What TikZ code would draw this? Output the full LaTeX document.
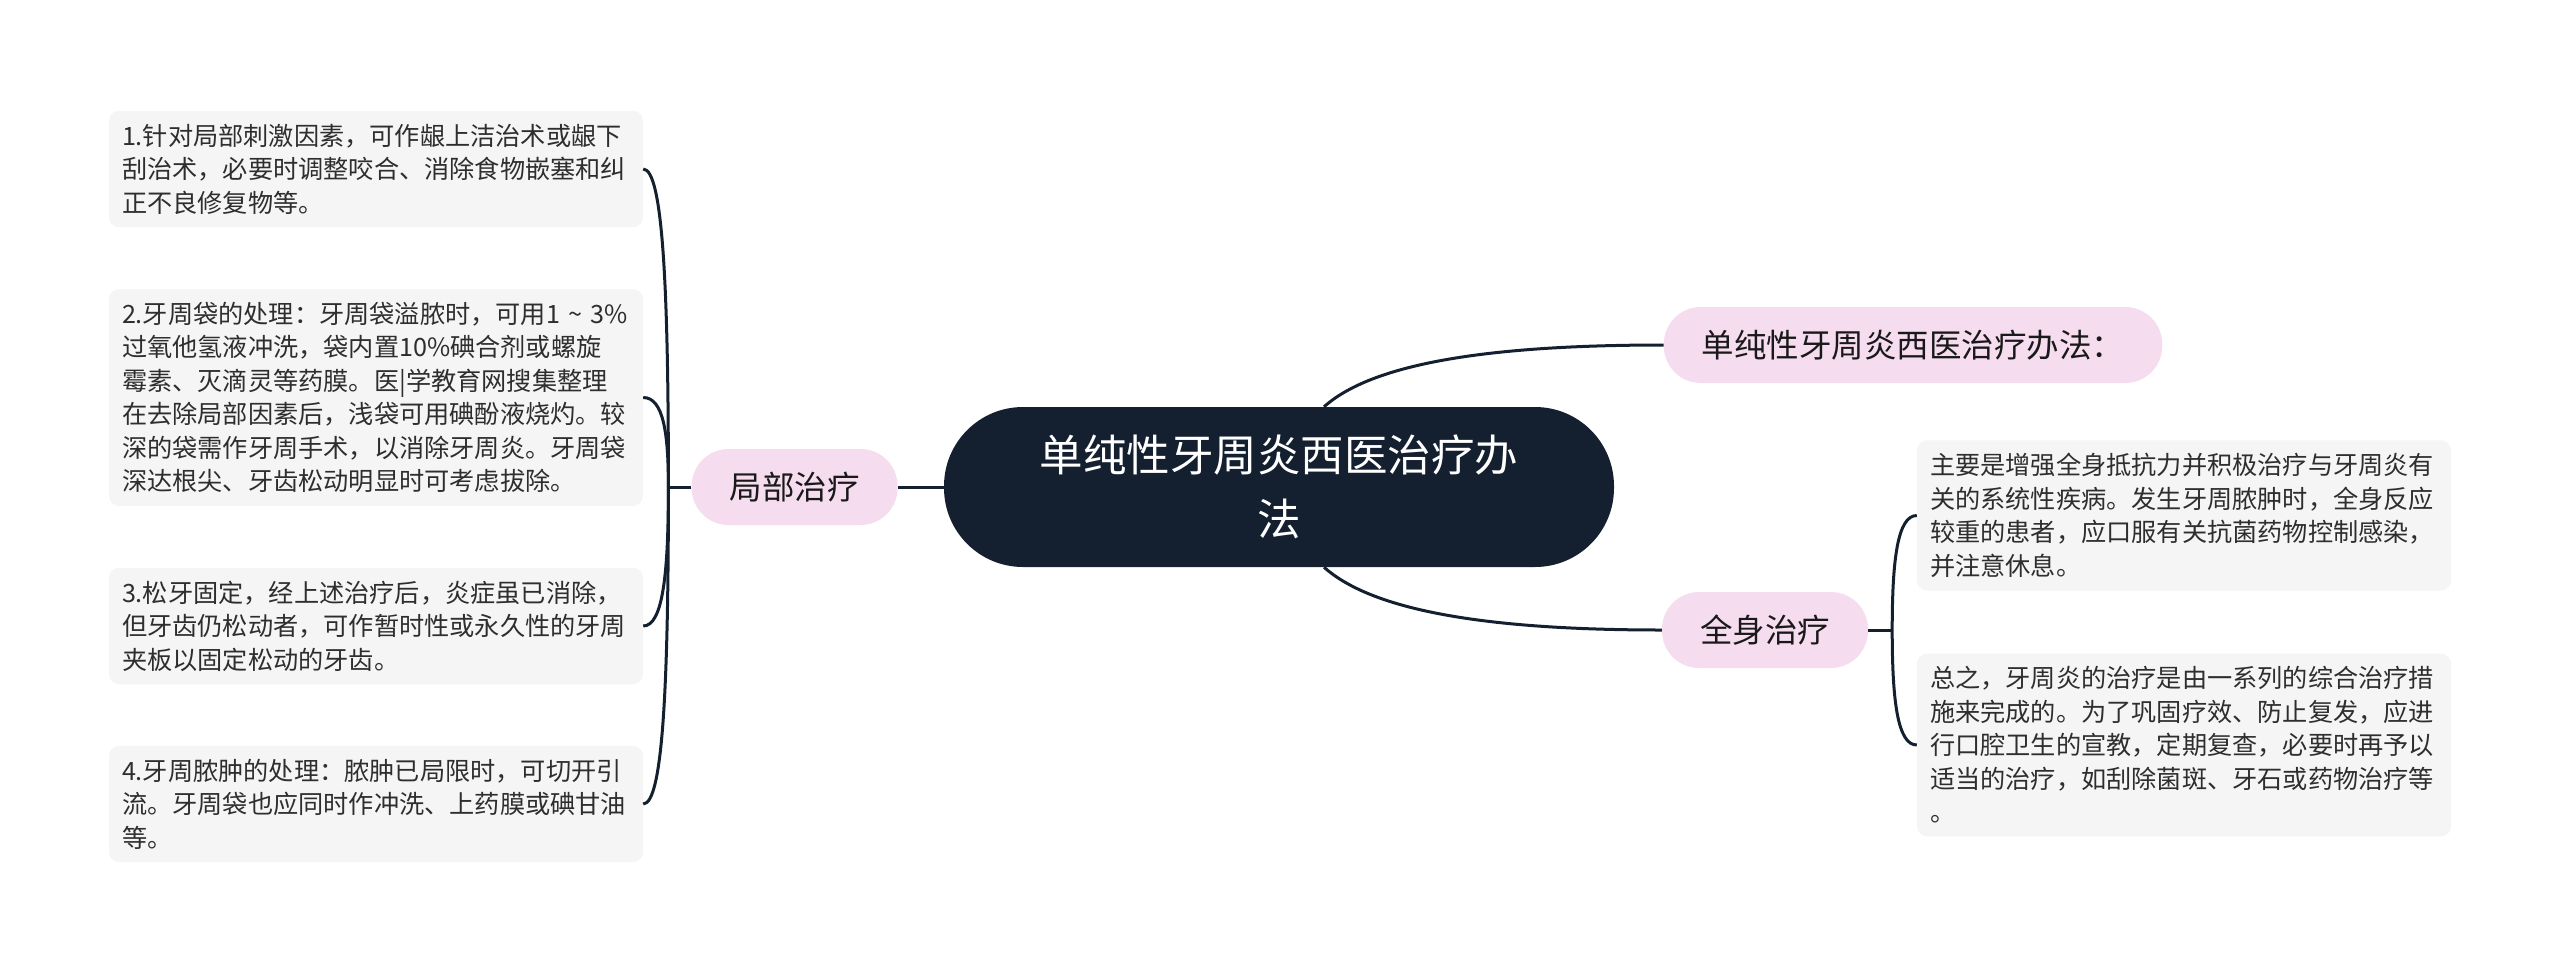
\documentclass[tikz,border=0pt]{standalone}
\usepackage{fontspec}
\setmainfont{Noto Sans CJK SC}
\usepackage{tikz}
\usetikzlibrary{positioning, calc}
\definecolor{navy}{HTML}{14202F}
\definecolor{pinkbg}{HTML}{F6DCEF}
\definecolor{leafbg}{HTML}{F5F5F5}
\definecolor{inkgray}{HTML}{2E2E2E}

\begin{document}
\begin{tikzpicture}
    [x=1pt, y=-1pt,
      root/.style={fill=navy, text=white, rounded corners=79pt, minimum width=670pt,
        minimum height=160pt, align=center, font=\fontsize{43.5}{64}\selectfont},
      topic/.style={fill=pinkbg, text=black!90, rounded corners=37pt, minimum height=76pt,
        inner xsep=38pt, inner ysep=0pt, font=\fontsize{32.5}{40}\selectfont},
      leaf/.style={fill=leafbg, text=inkgray, rounded corners=10pt, text width=508pt,
        inner xsep=13pt, inner ysep=13pt, align=left, font=\fontsize{25.2}{33.5}\selectfont},
      link/.style={draw=navy, line width=3pt}]

    \useasboundingbox (0,0) rectangle (2560,975);

    \node[root] (root) at (1279,487) {单纯性牙周炎西医治疗办\\法};
    \node[topic, left=46pt of root] (local) {局部治疗};
    \node[topic] (method) at (1913,345) {单纯性牙周炎西医治疗办法：};
    \node[topic] (whole) at (1765,630) {全身治疗};

    \node[leaf] (l1) at (376,169) {1.针对局部刺激因素，可作龈上洁治术或龈下\\刮治术，必要时调整咬合、消除食物嵌塞和纠\\正不良修复物等。};
    \node[leaf] (l2) at (376,397.5) {2.牙周袋的处理：牙周袋溢脓时，可用1~\textasciitilde~3\%\\过氧他氢液冲洗，袋内置10\%碘合剂或螺旋\\霉素、灭滴灵等药膜。医|学教育网搜集整理\\在去除局部因素后，浅袋可用碘酚液烧灼。较\\深的袋需作牙周手术，以消除牙周炎。牙周袋\\深达根尖、牙齿松动明显时可考虑拔除。};
    \node[leaf] (l3) at (376,626) {3.松牙固定，经上述治疗后，炎症虽已消除，\\但牙齿仍松动者，可作暂时性或永久性的牙周\\夹板以固定松动的牙齿。};
    \node[leaf] (l4) at (376,804) {4.牙周脓肿的处理：脓肿已局限时，可切开引\\流。牙周袋也应同时作冲洗、上药膜或碘甘油\\等。};
    \node[leaf] (r1) at (2184,515.5) {主要是增强全身抵抗力并积极治疗与牙周炎有\\关的系统性疾病。发生牙周脓肿时，全身反应\\较重的患者，应口服有关抗菌药物控制感染，\\并注意休息。};
    \node[leaf] (r2) at (2184,745) {总之，牙周炎的治疗是由一系列的综合治疗措\\施来完成的。为了巩固疗效、防止复发，应进\\行口腔卫生的宣教，定期复查，必要时再予以\\适当的治疗，如刮除菌斑、牙石或药物治疗等\\。};

    \coordinate (lsp) at ($(local.west)+(-23,0)$);
    \coordinate (rsp) at ($(whole.east)+(24,0)$);

    \draw[link] (root) -- (local);
    \draw[link] (local.west) -- (lsp);
    \foreach \b in {l1,l2,l3,l4}
      \draw[link] (lsp) .. controls ($(lsp)!0.6!(lsp |- \b.east)$) and ($(lsp |- \b.east)+(-5,0)$) .. (\b.east);

    \draw[link] ([xshift=45pt]root.north) .. controls +(47,-42) and +(-182,0) .. (method.west);
    \draw[link] ([xshift=45pt]root.south) .. controls +(47,42) and +(-182,0) .. (whole.west);
    \draw[link] (whole.east) -- (rsp);
    \foreach \b in {r1,r2}
      \draw[link] (rsp) .. controls ($(rsp)!0.6!(rsp |- \b.west)$) and ($(rsp |- \b.west)+(5,0)$) .. (\b.west);
  \end{tikzpicture}
\end{document}
